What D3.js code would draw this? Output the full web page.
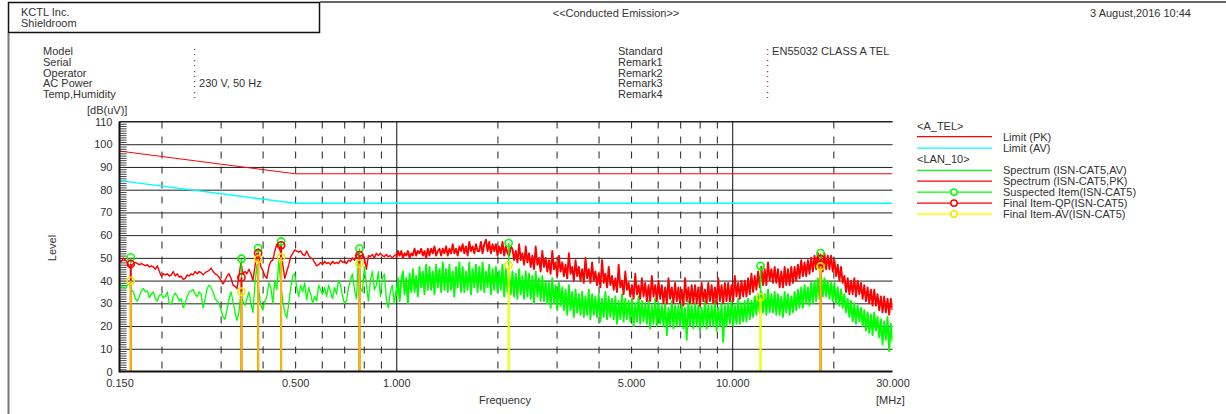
<!DOCTYPE html>
<html>
<head>
<meta charset="utf-8">
<script src="https://cdn.jsdelivr.net/npm/d3@7"></script>
<style>
  body { margin: 0; background: #fff; }
  svg { display: block; }
  text { font-family: "Liberation Sans", Arial, sans-serif; font-size: 11px; fill: #333; }
</style>
</head>
<body>
<svg id="chart" width="1226" height="414"></svg>
<script>
// ---------- report header ----------
const companyLines = ["KCTL Inc.", "Shieldroom"];
const reportTitle = "<<Conducted Emission>>";
const reportDate = "3 August,2016 10:44";
const leftFields = ["Model", "Serial", "Operator", "AC Power", "Temp,Humidity"];
const leftValues = ["", "", "", "230 V, 50 Hz", ""];
const rightFields = ["Standard", "Remark1", "Remark2", "Remark3", "Remark4"];
const rightValues = ["EN55032 CLASS A TEL", "", "", "", ""];

// ---------- axes ----------
const levelTicks = [0, 10, 20, 30, 40, 50, 60, 70, 80, 90, 100, 110];
const freqLabels = [0.15, 0.5, 1, 5, 10, 30];
const freqDecades = [1, 10];
const freqMinorGrid = [0.2, 0.3, 0.4, 0.5, 0.6, 0.7, 0.8, 0.9, 2, 3, 4, 5, 6, 7, 8, 9, 20];

// ---------- limit lines (A_TEL) ----------
const limitFreq = [0.15, 0.5, 30];
const limitPK = [97, 87, 87];
const limitAV = [84, 74, 74];

// ---------- receiver sweeps, dB(uV) ----------
const bandA = { start: 0.15, stop: 1.0 };
const bandB = { start: 1.0, stop: 30 };

const pkBandA = [
  48,48.5,50,49,48,46,46.5,47.5,48,47.5,
  47,47.5,47,46.5,47,46,46.5,46,45,46.5,
  44,42,43,42.5,43,42,42.5,44,42,43,
  41.5,42,40.5,41,42.5,42,43,42.5,44,43,
  44,43.5,42.5,43.5,44,44.5,45.5,44,43,42.5,
  41.5,40,38.5,40,42,43,41,38,37.5,36.5,
  42,48,43,44,43,45,43,40,46,52,
  50.5,46,44.5,42,41,46,48.5,49,53,56,
  55.5,52,47,41,44,47,50.5,52,53.5,53,
  52.5,53,51.5,51,53,51,50,49.5,48,46.5,
  47,48,47,48.5,47.5,48,47,48.5,47.5,48,
  47.5,49,48,48.5,47.5,49,48.5,50,49,51,
  52,50.5,51.5,50,45,51,50.5,51.5,50,52,
  51,52,51,50.5,51.5,50.5,51,50,51,51.5
];
const avBandA = [
  39,37.5,37,36.5,38,38.5,36,35,32,31,
  33,35.5,36.5,35,35.5,32.5,34,35,32,31,
  33.5,34,32.5,33,35,30,29.5,33,34.5,33,
  31,32,28,30,33,35,35.5,36,34,33,
  35,34,28,32,36.5,38,37,35,32,31,
  30,27,24,23,27,32,35,31,26,22.5,
  26,35.5,31,29,32,35,30,26,38,47,
  35,29,27,31,33,39,37,30,40,36,
  49,38,31,26,23.5,30,37,42,43,37,
  33,38,35,39,31.5,37,34,30,33,31,
  38,36,34,37,33,38,35,32,37,34,
  40,38,33,30,31,37,40,43,36,32,
  51,37,35,46,38,31,40,44,36,38,
  44,33,41,43,32,28,35,38,30,36
];
const pkBandB = [
  50,53,51,53,50,52,51,53,50,52,
  51,54,51,53,52,54,51,53,50,54,
  51,54,52,55,51,53,54,51,54,52,
  55,51,54,52,56,52,54,51,55,53,
  56,52,55,51,57,53,55,52,56,53,
  53,57,52,56,58,53,57,52,56,53,
  56,51,55,52,57,51,55,52,51,55,
  54,49,53,48,56,49,52,47,55,48,
  52,46,51,45,55,47,50,44,53,46,
  50,44,49,43,53,45,48,42,51,44,
  48,42,47,41,52,43,46,40,49,42,
  46,40,45,39,50,41,45,39,48,40,
  44,38,43,37,49,39,43,37,46,38,
  42,36,41,35,47,37,40,34,44,36,
  39,33,38,32,43,34,38,32,41,33,
  39,31,38,31,42,33,38,31,40,32,
  38,30,37,30,41,32,37,30,39,31,
  37,30,36,29,41,31,37,30,38,30,
  38,30,37,29,39,31,36,30,39,31,
  38,30,37,30,41,31,38,30,39,31,
  39,31,38,31,42,33,39,32,40,33,
  40,33,41,34,43,35,42,36,44,37,
  46,38,45,38,48,40,45,39,46,39,
  45,37,44,37,46,38,45,38,46,39,
  46,40,47,41,49,42,48,42,49,43,
  50,44,51,45,52,45,51,44,52,45,
  51,45,51,44,49,42,47,40,46,39,
  42,35,41,34,40,34,41,33,40,34,
  39,32,38,31,37,30,36,29,36,29,
  34,27,33,26,33,26,32,25,32,27
];
const avBandB = [
  33,41,31,40,44,34,41,30,43,35,
  45,35,42,33,46,37,44,34,47,36,
  46,36,44,34,47,37,45,35,48,36,
  45,35,47,36,44,33,46,37,48,35,
  46,35,44,36,48,34,45,37,47,35,
  46,36,48,35,44,37,47,34,45,36,
  46,35,44,36,47,33,45,35,43,34,
  44,33,43,32,45,34,42,32,44,33,
  43,32,42,30,44,33,41,31,42,31,
  40,30,39,28,41,30,38,27,39,29,
  37,27,36,25,38,27,35,24,36,26,
  34,25,35,24,33,25,36,23,34,25,
  33,24,34,22,32,24,35,23,33,24,
  32,23,33,21,31,23,34,22,32,23,
  31,22,32,20,30,22,33,21,31,22,
  30,21,31,19,29,21,32,20,30,21,
  29,20,30,16,28,20,31,19,29,20,
  29,20,30,19,28,14,31,20,29,19,
  30,20,29,18,28,20,31,19,29,20,
  29,20,31,18,28,20,30,13,29,20,
  30,21,31,20,29,21,32,21,30,22,
  31,22,32,23,31,24,33,25,34,26,
  35,26,34,25,36,26,34,26,35,25,
  34,25,33,24,35,26,34,25,33,26,
  35,27,36,28,37,28,38,30,37,29,
  39,30,40,31,41,32,42,33,41,33,
  40,32,39,31,39,30,37,29,36,28,
  34,26,32,24,31,22,30,21,29,22,
  28,20,27,18,26,17,25,16,26,18,
  24,15,23,12,22,14,24,9,21,13
];

// ---------- suspected / final measurement items ----------
const itemFreq       = [0.162, 0.346, 0.388, 0.454, 0.777, 2.16, 12.14, 18.32];
const suspectedLevel = [50.2, 49.6, 54.3, 57.2, 54.1, 56.5, 46.5, 52.1];
const finalQP        = [47.3, 41.4, 52.1, 55.5, 51.2, null, null, 49.5];
const finalAV        = [39.9, 35.1, 49.5, 50.3, 47.5, 46.8, 32.6, 46.2];

// ---------- legend ----------
const legendGroups = ["<A_TEL>", "<LAN_10>"];
const legendLabels = ["Limit (PK)", "Limit (AV)", "Spectrum (ISN-CAT5,AV)", "Spectrum (ISN-CAT5,PK)",
                      "Suspected Item(ISN-CAT5)", "Final Item-QP(ISN-CAT5)", "Final Item-AV(ISN-CAT5)"];

// ================= drawing =================
const svg = d3.select("#chart");
const C = { red: "#ff0000", cyan: "#00ffff", green: "#00ff00", yellow: "#ffff00", ink: "#333" };
const plot = { left: 119.5, right: 892.5, top: 121.5, bottom: 371.5 };
const plotH = plot.bottom - plot.top, plotW = plot.right - plot.left;

const x = d3.scaleLog().domain([0.15, 30]).range([plot.left, plot.right]);
const y = d3.scaleLinear().domain([0, 110]).range([plot.bottom, plot.top]);

// page frame
svg.append("rect").attr("x", 8.5).attr("y", 2.5).attr("width", 311).attr("height", 30)
  .attr("fill", "none").attr("stroke", "#111").attr("stroke-width", 1.5);
svg.append("line").attr("x1", 320).attr("x2", 1226).attr("y1", 2).attr("y2", 2)
  .attr("stroke", "#666").attr("stroke-width", 2);
svg.append("line").attr("x1", 8.5).attr("x2", 8.5).attr("y1", 33).attr("y2", 414)
  .attr("stroke", "#777").attr("stroke-width", 2);

// header text
companyLines.forEach((t, i) => svg.append("text").attr("x", 21).attr("y", 16 + i * 11).text(t));
svg.append("text").attr("x", 616).attr("y", 17).attr("text-anchor", "middle").text(reportTitle);
svg.append("text").attr("x", 1191).attr("y", 17).attr("text-anchor", "end").text(reportDate);
const rowY = i => 55 + i * 10.8;
leftFields.forEach((t, i) => {
  svg.append("text").attr("x", 43).attr("y", rowY(i)).text(t);
  svg.append("text").attr("x", 193).attr("y", rowY(i)).text(":" + (leftValues[i] ? " " + leftValues[i] : ""));
});
rightFields.forEach((t, i) => {
  svg.append("text").attr("x", 618).attr("y", rowY(i)).text(t);
  svg.append("text").attr("x", 766).attr("y", rowY(i)).text(":" + (rightValues[i] ? " " + rightValues[i] : ""));
});

// grid: horizontal level lines
svg.append("g").attr("transform", `translate(${plot.left},0)`)
  .call(d3.axisLeft(y).tickValues(levelTicks.filter(d => d > 0)).tickSize(-plotW).tickFormat(""))
  .call(g => g.select(".domain").remove())
  .call(g => g.selectAll("line").attr("stroke", "#222").attr("stroke-width", 1));
// grid: dashed frequency lines, dashes running from the top edge
svg.append("g").attr("transform", `translate(0,${plot.top})`)
  .call(d3.axisBottom(x).tickValues(freqMinorGrid).tickSize(plotH).tickFormat(""))
  .call(g => g.select(".domain").remove())
  .call(g => g.selectAll("line").attr("stroke", "#222").attr("stroke-width", 1)
    .attr("stroke-dasharray", "7,8"));
// grid: solid decade lines
svg.append("g").attr("transform", `translate(0,${plot.top})`)
  .call(d3.axisBottom(x).tickValues(freqDecades).tickSize(plotH).tickFormat(""))
  .call(g => g.select(".domain").remove())
  .call(g => g.selectAll("line").attr("stroke", "#111").attr("stroke-width", 1));

// minor level ticks along the left axis
const minorLevels = d3.range(1, 110).filter(d => d % 10 !== 0);
svg.append("g").attr("transform", `translate(${plot.left},0)`)
  .call(d3.axisRight(y).tickValues(minorLevels).tickSize(7).tickFormat(""))
  .call(g => g.select(".domain").remove())
  .call(g => g.selectAll("line").attr("stroke", "#444"));

// clip for traces
svg.append("clipPath").attr("id", "plotClip").append("rect")
  .attr("x", plot.left).attr("y", plot.top - 2).attr("width", plotW).attr("height", plotH + 2);
const area = svg.append("g").attr("clip-path", "url(#plotClip)");

const line = d3.line().x(d => x(d.f)).y(d => y(d.v));
function sweep(band, levels) {
  const n = levels.length - 1;
  return levels.map((v, i) => ({ f: band.start * Math.pow(band.stop / band.start, i / n), v }));
}
const avA = sweep(bandA, avBandA), avB = sweep(bandB, avBandB);
const pkA = sweep(bandA, pkBandA), pkB = sweep(bandB, pkBandB);

// limits
const limPK = limitFreq.map((f, i) => ({ f, v: limitPK[i] }));
const limAV = limitFreq.map((f, i) => ({ f, v: limitAV[i] }));
area.append("path").datum(limPK).attr("d", line).attr("fill", "none").attr("stroke", C.red).attr("stroke-width", 1);
area.append("path").datum(limAV).attr("d", line).attr("fill", "none").attr("stroke", C.cyan).attr("stroke-width", 1.4);

// spectra: the low band sweep is sparse, the high band sweep is dense
const trace = (data, color, w) => area.append("path").datum(data).attr("d", line)
  .attr("fill", "none").attr("stroke", color).attr("stroke-width", w).attr("stroke-linejoin", "round");
trace(avA, C.green, 1.3);
trace(avB, C.green, 1.9);
trace(pkA, C.red, 1.4);
trace(pkB, C.red, 1.9);

// item stems
const items = itemFreq.map((f, i) => ({ f, s: suspectedLevel[i], qp: finalQP[i], av: finalAV[i] }));
area.selectAll(".stemS").data(items).join("line")
  .attr("x1", d => x(d.f)).attr("x2", d => x(d.f)).attr("y1", d => y(d.s)).attr("y2", y(0))
  .attr("stroke", C.green).attr("stroke-width", 1.5);
area.selectAll(".stemQ").data(items.filter(d => d.qp != null)).join("line")
  .attr("x1", d => x(d.f)).attr("x2", d => x(d.f)).attr("y1", d => y(d.qp)).attr("y2", y(0))
  .attr("stroke", C.red).attr("stroke-width", 2);
area.selectAll(".stemA").data(items).join("line")
  .attr("x1", d => x(d.f)).attr("x2", d => x(d.f)).attr("y1", d => y(d.av)).attr("y2", y(0))
  .attr("stroke", C.yellow).attr("stroke-width", 2).attr("stroke-opacity", d => d.qp != null ? 0.72 : 1);

// item markers
const marker = (sel, key, color) => sel.selectAll(null).data(items.filter(d => d[key] != null)).join("circle")
  .attr("cx", d => x(d.f)).attr("cy", d => y(d[key])).attr("r", 3.6)
  .attr("fill", "none").attr("stroke", color).attr("stroke-width", 1.6);
marker(svg, "s", C.green);
marker(svg, "qp", C.red);
marker(svg, "av", "#f2e600");

// axis lines
svg.append("line").attr("x1", plot.left).attr("x2", plot.left).attr("y1", plot.top).attr("y2", plot.bottom + 1)
  .attr("stroke", "#111").attr("stroke-width", 2);
svg.append("line").attr("x1", plot.left).attr("x2", plot.right).attr("y1", plot.bottom).attr("y2", plot.bottom)
  .attr("stroke", "#111").attr("stroke-width", 2);
svg.append("line").attr("x1", plot.left).attr("x2", plot.right).attr("y1", plot.top).attr("y2", plot.top)
  .attr("stroke", "#222").attr("stroke-width", 1);

// tick labels
svg.append("g").attr("transform", `translate(${plot.left},0)`)
  .call(d3.axisLeft(y).tickValues(levelTicks).tickSize(0).tickPadding(7))
  .call(g => g.select(".domain").remove())
  .call(g => g.selectAll("text").style("font-size", "11px").attr("fill", C.ink));
svg.append("g").attr("transform", `translate(0,${plot.bottom})`)
  .call(d3.axisBottom(x).tickValues(freqLabels).tickSize(0).tickPadding(8).tickFormat(d3.format(".3f")))
  .call(g => g.select(".domain").remove())
  .call(g => g.selectAll("text").style("font-size", "11px").attr("fill", C.ink));

// axis titles
svg.append("text").attr("x", 87).attr("y", 114).text("[dB(uV)]");
svg.append("text").attr("transform", "translate(56,248) rotate(-90)").attr("text-anchor", "middle").text("Level");
svg.append("text").attr("x", 505).attr("y", 404).attr("text-anchor", "middle").text("Frequency");
svg.append("text").attr("x", 876).attr("y", 404).text("[MHz]");

// legend
const lg = svg.append("g");
const lgX1 = 917, lgX2 = 992, lgText = 1003, lgMark = 954;
lg.append("text").attr("x", lgX1).attr("y", 130).text(legendGroups[0]);
lg.append("text").attr("x", lgX1).attr("y", 163).text(legendGroups[1]);
const legendRows = [
  { y: 136.7, color: C.red },
  { y: 148.2, color: C.cyan },
  { y: 170.4, color: C.green },
  { y: 181.2, color: C.red },
  { y: 192.1, color: C.green, mark: true },
  { y: 203.1, color: C.red, mark: true },
  { y: 214.0, color: C.yellow, mark: true }
];
legendRows.forEach((r, i) => {
  lg.append("line").attr("x1", lgX1).attr("x2", lgX2).attr("y1", r.y).attr("y2", r.y)
    .attr("stroke", r.color).attr("stroke-width", 1.3);
  if (r.mark) lg.append("circle").attr("cx", lgMark).attr("cy", r.y).attr("r", 3.2)
    .attr("fill", "#fff").attr("stroke", r.color === C.yellow ? "#f2e600" : r.color).attr("stroke-width", 1.5);
  lg.append("text").attr("x", lgText).attr("y", r.y + 4).text(legendLabels[i]);
});
</script>
</body>
</html>
